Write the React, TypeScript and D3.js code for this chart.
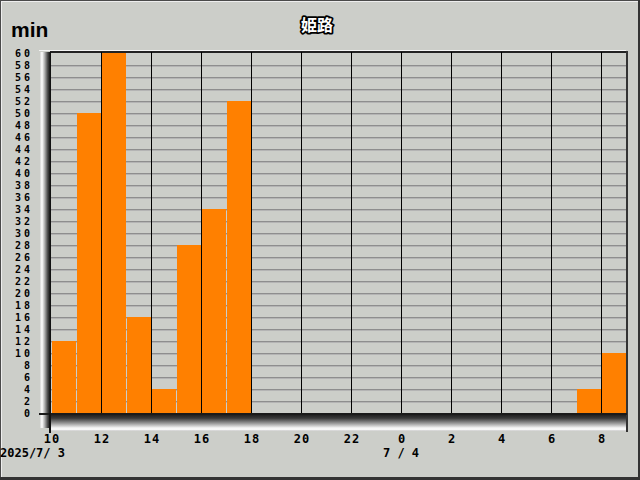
import React from "react";
import * as d3 from "d3";

const TITLE = "姫路";
const Y_UNIT = "min";
const HOURS = ["10","11","12","13","14","15","16","17","18","19","20","21","22","23","0","1","2","3","4","5","6","7","8"];
const VALUES = [12, 50, 60, 16, 4, 28, 34, 52, 0, 0, 0, 0, 0, 0, 0, 0, 0, 0, 0, 0, 0, 4, 10];
const Y_TICKS = d3.range(0, 61, 2);
const X_TICK_IDX = [0, 2, 4, 6, 8, 10, 12, 14, 16, 18, 20, 22];
const DATE_LABELS = [
  { idx: 0, text: "2025/7/ 3", anchor: "start" },
  { idx: 14, text: "7 / 4", anchor: "middle" },
];

const W = 640, H = 480;
const L = 51, R = 626, T = 53, B = 413;
const BG = "#cccec9";
const MONO = "'DejaVu Sans Mono', 'Liberation Mono', monospace";

export default function App() {
  const x = d3.scaleLinear().domain([0, HOURS.length]).range([L, R]);
  const y = d3.scaleLinear().domain([0, 60]).range([B, T]);
  const step = x(1) - x(0);

  return (
    <svg width={W} height={H} style={{ position: "absolute", left: 0, top: 0 }} shapeRendering="crispEdges">
      <defs>
        <linearGradient id="wall" x1="0" x2="1" y1="0" y2="0">
          <stop offset="0%" stopColor="#d4d4d4" />
          <stop offset="20%" stopColor="#ffffff" />
          <stop offset="45%" stopColor="#b4b4b4" />
          <stop offset="75%" stopColor="#505050" />
          <stop offset="100%" stopColor="#111111" />
        </linearGradient>
        <linearGradient id="floor" x1="0" x2="0" y1="0" y2="1">
          <stop offset="0%" stopColor="#1a1a1a" />
          <stop offset="25%" stopColor="#3a3a3a" />
          <stop offset="55%" stopColor="#9a9a9a" />
          <stop offset="80%" stopColor="#f0f0f0" />
          <stop offset="90%" stopColor="#ffffff" />
          <stop offset="100%" stopColor="#c8c8c8" />
        </linearGradient>
      </defs>
      <rect x={0} y={0} width={W} height={H} fill={BG} />
      {/* frame */}
      <rect x={0} y={0} width={W} height={1} fill="#4a4a4a" />
      <rect x={0} y={0} width={1} height={H} fill="#4a4a4a" />
      <rect x={1} y={1} width={W - 3} height={1} fill="#eeeeee" />
      <rect x={1} y={1} width={1} height={H - 4} fill="#eeeeee" />
      <rect x={W - 2} y={0} width={2} height={H} fill="#333333" />
      <rect x={0} y={H - 3} width={W} height={3} fill="#333333" />

      {/* wall & floor */}
      <rect x={39} y={50} width={R - 39} height={1} fill="#f4f4f4" />
      <rect x={40} y={T - 1} width={10} height={B - T + 16} fill="url(#wall)" />
      <rect x={50} y={B + 1} width={R - 49} height={17} fill="url(#floor)" />
      <rect x={50} y={T - 2} width={R - 49} height={2} fill="#222222" />

      {/* horizontal gridlines */}
      {Y_TICKS.filter((v) => v > 0 && v < 60).map((v) => (
        <g key={"h" + v}>
          <rect x={L} y={y(v)} width={R - L} height={1} fill="#8e8e8e" />
          <rect x={L} y={y(v) + 1} width={R - L} height={1} fill="#b4b4b4" />
        </g>
      ))}
      {/* vertical gridlines */}
      {X_TICK_IDX.filter((i) => i > 0).map((i) => (
        <rect key={"v" + i} x={x(i)} y={T - 1} width={1} height={B - T + 1} fill="#000000" />
      ))}

      {/* bars */}
      {VALUES.map((v, i) =>
        v > 0 ? (
          <rect key={"b" + i} x={x(i) + 1} y={y(v)} width={step - 1} height={B - y(v)} fill="#ff8000" />
        ) : null
      )}

      {/* plot edges */}
      <rect x={L - 1} y={T - 1} width={1} height={B - T + 2} fill="#111111" />
      <rect x={R} y={T - 2} width={2} height={B - T + 21} fill="#333333" />
      <rect x={39} y={B} width={R - 38} height={2} fill="#1a1a1a" />
      <rect x={L - 2} y={B} width={2} height={20} fill="#111111" />

      {/* y tick labels */}
      {Y_TICKS.map((v) => (
        <text key={"yl" + v} x={33} y={y(v) + 4} textAnchor="end" fontFamily={MONO} fontWeight="bold" fontSize={10} letterSpacing={3} fill="#000">
          {v}
        </text>
      ))}
      {/* x tick labels */}
      {X_TICK_IDX.map((i) => (
        <text key={"xl" + i} x={x(i) + 1} y={443} textAnchor="middle" fontFamily={MONO} fontWeight="bold" fontSize={12} letterSpacing={1} fill="#000">
          {HOURS[i]}
        </text>
      ))}
      {DATE_LABELS.map((d) => (
        <text key={"d" + d.idx} x={d.anchor === "start" ? 0 : x(d.idx)} y={457} textAnchor={d.anchor as any} fontFamily={MONO} fontWeight="bold" fontSize={12} fill="#000" style={{ whiteSpace: "pre" }}>
          {d.text}
        </text>
      ))}

      {/* unit */}
      <text x={11} y={37} fontFamily="'Liberation Sans', Arial, sans-serif" fontWeight="bold" fontSize={21} fill="#000">
        {Y_UNIT}
      </text>
      {/* title */}
      <text x={317} y={31} textAnchor="middle" fontFamily="'Noto Sans CJK JP', sans-serif" fontWeight="bold" fontSize={16} fill="#ffffff" stroke="#000" strokeWidth={3.5} paintOrder="stroke" strokeLinejoin="round">
        {TITLE}
      </text>
    </svg>
  );
}
